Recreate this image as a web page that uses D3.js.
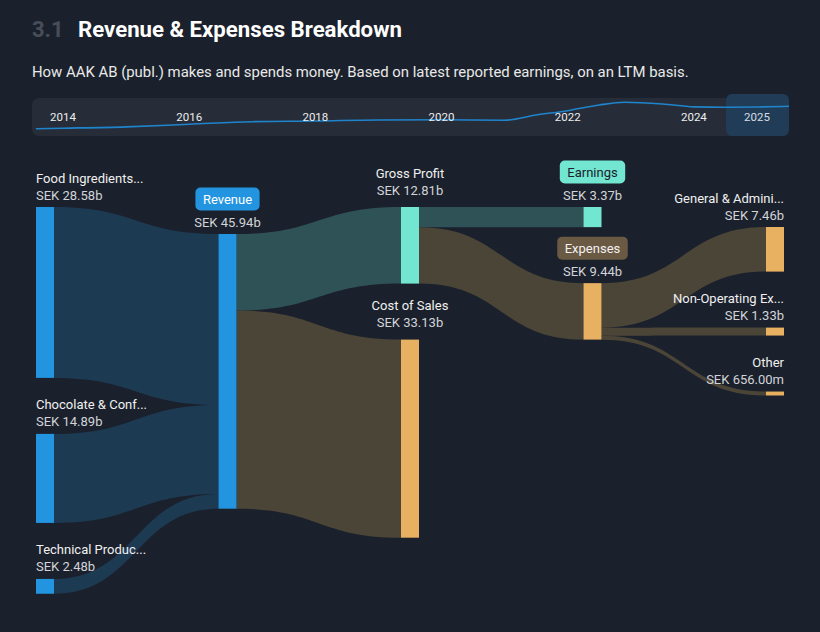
<!DOCTYPE html>
<html>
<head>
<meta charset="utf-8">
<script src="https://cdn.jsdelivr.net/npm/d3@7"></script>
<style>
  html, body { margin: 0; padding: 0; background: #1b212c; }
  svg { display: block; font-family: Roboto, "Noto Sans", sans-serif; }
</style>
</head>
<body>
<svg id="chart" width="820" height="632"></svg>
<script>
// ---------------- DATA ----------------
const sectionNumber = "3.1";
const titleText = "Revenue & Expenses Breakdown";
const subtitleText = "How AAK AB (publ.) makes and spends money. Based on latest reported earnings, on an LTM basis.";

const nodeNames = ["Food Ingredients...", "Chocolate & Conf...", "Technical Produc...", "Revenue",
  "Gross Profit", "Cost of Sales", "Earnings", "Expenses",
  "General & Admini...", "Non-Operating Ex...", "Other"];
const nodeValues = [28.58, 14.89, 2.48, 45.94, 12.81, 33.13, 3.37, 9.44, 7.46, 1.33, 0.656];
const nodeValueLabels = ["SEK 28.58b", "SEK 14.89b", "SEK 2.48b", "SEK 45.94b",
  "SEK 12.81b", "SEK 33.13b", "SEK 3.37b", "SEK 9.44b",
  "SEK 7.46b", "SEK 1.33b", "SEK 656.00m"];
const nodeColumns = [0, 0, 0, 1, 2, 2, 3, 3, 4, 4, 4];
const nodeKinds = ["rev", "rev", "rev", "rev", "profit", "cost", "profit", "cost", "cost", "cost", "cost"];
const badgeNodes = ["Revenue", "Earnings", "Expenses"];

const linkSources = [0, 1, 2, 3, 3, 4, 4, 7, 7, 7];
const linkTargets = [3, 3, 3, 4, 5, 6, 7, 8, 9, 10];
const linkValues  = [28.58, 14.89, 2.48, 12.81, 33.13, 3.37, 9.44, 7.46, 1.33, 0.656];

const timelineYears = [2014, 2016, 2018, 2020, 2022, 2024, 2025];
const historyTimes  = [2013.57, 2014, 2015, 2016, 2017, 2018, 2019, 2020, 2021, 2021.5, 2022, 2022.5, 2022.9, 2023.5, 2024, 2024.5, 2025, 2025.52];
const historyValues = [16.5, 17.1, 18.7, 21.7, 24.7, 25.5, 26.7, 26.9, 26.4, 32.5, 37.5, 44.2, 47.3, 45.3, 42.0, 41.5, 41.8, 42.7];
const selectedYear = 2025;

// ---------------- STYLE / LAYOUT ----------------
const colors = {
  bg: "#1b212c",
  nodeFill: { rev: "#2394df", profit: "#72e6d0", cost: "#e8b161" },
  linkFill: { rev: "#1d3a53", profit: "#2f5257", cost: "#4b4538" },
  badgeFill: { rev: "#2394df", profit: "#72e6d0", cost: "#6a5943" },
  badgeText: { rev: "#ffffff", profit: "#1b212c", cost: "#f2f2f2" }
};
const nodeWidth = 18;
const nodeGap = 56;
const columnTops = [207, 234, 207, 207, 227];

const svg = d3.select("#chart");
svg.append("rect").attr("width", 820).attr("height", 632).attr("fill", colors.bg);

// Title
svg.append("text").attr("x", 32).attr("y", 37).attr("font-size", 22).attr("font-weight", 700)
  .attr("fill", "#484e59").text(sectionNumber);
svg.append("text").attr("x", 78).attr("y", 37).attr("font-size", 22.2).attr("font-weight", 700)
  .attr("fill", "#ffffff").text(titleText);
svg.append("text").attr("x", 32).attr("y", 77).attr("font-size", 14.9)
  .attr("fill", "#e9e9e9").text(subtitleText);

// ---------------- TIMELINE ----------------
const tl = svg.append("g");
const tlX = d3.scaleLinear().domain([2014, 2025]).range([63, 757]);
const tlY = d3.scaleLinear().domain([15, 50]).range([130, 100]);
tl.append("rect").attr("x", 32).attr("y", 98).attr("width", 757).attr("height", 38).attr("rx", 7)
  .attr("fill", "#262d39");
tl.append("rect").attr("x", tlX(selectedYear) - 31).attr("y", 94).attr("width", 63).attr("height", 42).attr("rx", 6)
  .attr("fill", "#213c56");
svg.append("clipPath").attr("id", "tlclip").append("rect")
  .attr("x", 32).attr("y", 90).attr("width", 757).attr("height", 46);
const line = d3.line().x((d, i) => tlX(historyTimes[i])).y(d => tlY(d)).curve(d3.curveMonotoneX);
tl.append("path").attr("d", line(historyValues)).attr("fill", "none").attr("stroke", "#1f84cc")
  .attr("stroke-width", 1.6).attr("clip-path", "url(#tlclip)");
tl.selectAll("text.yr").data(timelineYears).join("text").attr("class", "yr")
  .attr("x", d => tlX(d)).attr("y", 121).attr("text-anchor", "middle").attr("font-size", 11.5)
  .attr("fill", d => d === selectedYear ? "#d7dde4" : "#eeeeee").text(d => d);

// ---------------- SANKEY LAYOUT ----------------
const xCol = d3.scaleLinear().domain([0, 4]).range([36, 766]);
const vScale = d3.scaleLinear().domain([0, nodeValues[3]]).range([0, 274.7]);

const nodes = nodeNames.map((name, i) => ({
  i, name, value: nodeValues[i], label: nodeValueLabels[i], col: nodeColumns[i], kind: nodeKinds[i]
}));
const colCursor = columnTops.slice();
nodes.forEach(n => {
  n.x0 = xCol(n.col);
  n.x1 = n.x0 + nodeWidth;
  n.y0 = colCursor[n.col];
  n.y1 = n.y0 + vScale(n.value);
  colCursor[n.col] = n.y1 + nodeGap;
  n.outOff = n.y0;
  n.inOff = n.y0;
});
const links = linkSources.map((s, i) => {
  const src = nodes[s], tgt = nodes[linkTargets[i]];
  const w = vScale(linkValues[i]);
  const l = { src, tgt, w, sy0: src.outOff, ty0: tgt.inOff };
  src.outOff += w; tgt.inOff += w;
  return l;
});

function linkPath(l) {
  const x0 = l.src.x1, x1 = l.tgt.x0, xm = (x0 + x1) / 2;
  const a0 = l.sy0, a1 = l.sy0 + l.w, b0 = l.ty0, b1 = l.ty0 + l.w;
  return `M${x0},${a0}C${xm},${a0} ${xm},${b0} ${x1},${b0}` +
         `L${x1},${b1}C${xm},${b1} ${xm},${a1} ${x0},${a1}Z`;
}

const linkColor = l => colors.linkFill[l.tgt.kind];

svg.append("g").selectAll("path").data(links).join("path")
  .attr("d", linkPath).attr("fill", linkColor);

svg.append("g").selectAll("rect").data(nodes).join("rect")
  .attr("x", d => d.x0).attr("y", d => d.y0).attr("width", nodeWidth)
  .attr("height", d => Math.max(1, d.y1 - d.y0)).attr("fill", d => colors.nodeFill[d.kind]);

// ---------------- LABELS ----------------
const lab = svg.append("g").attr("font-size", 13);
nodes.forEach(n => {
  let anchor = "middle", x = (n.x0 + n.x1) / 2;
  if (n.col === 0) { anchor = "start"; x = n.x0; }
  if (n.col === 4) { anchor = "end"; x = n.x1; }
  const extra = n.col === 2 ? 5 : 0;
  const valueBase = n.y0 - 7.5 - extra;
  lab.append("text").attr("x", x).attr("y", valueBase).attr("text-anchor", anchor)
    .attr("fill", "#d2d4d8").text(n.label);
  if (badgeNodes.includes(n.name)) {
    const t = lab.append("text").attr("x", x).attr("y", n.y0 - 30.5).attr("text-anchor", "middle")
      .attr("fill", colors.badgeText[n.kind]).text(n.name);
    const bw = t.node().getComputedTextLength() + 15;
    lab.insert("rect", () => t.node()).attr("x", x - bw / 2).attr("y", n.y0 - 46.5)
      .attr("width", bw).attr("height", 23).attr("rx", 5).attr("fill", colors.badgeFill[n.kind]);
  } else {
    lab.append("text").attr("x", x).attr("y", n.y0 - 24.5 - extra).attr("text-anchor", anchor)
      .attr("fill", "#f0f0f0").text(n.name);
  }
});
</script>
</body>
</html>
